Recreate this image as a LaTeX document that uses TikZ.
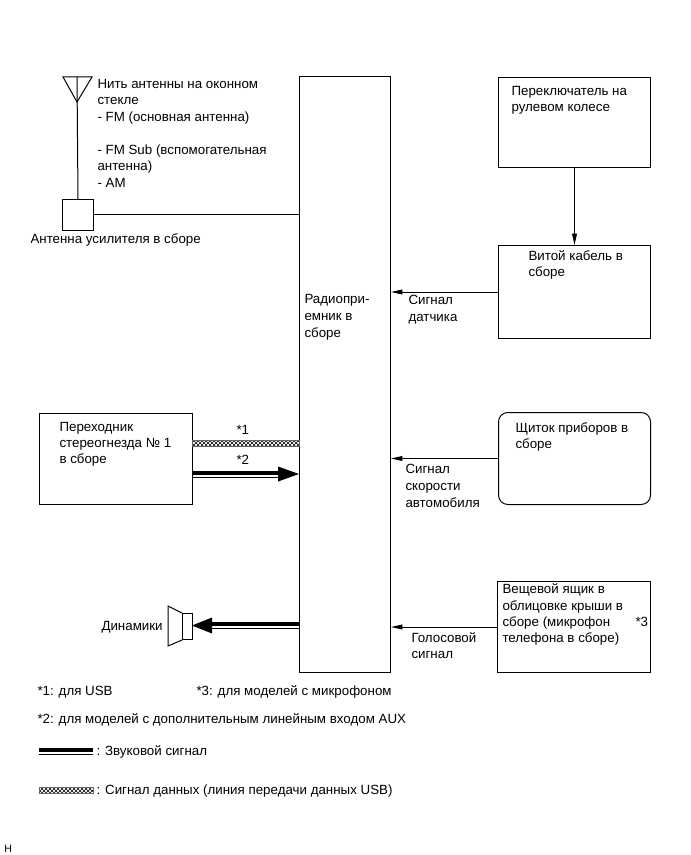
\documentclass[tikz,border=0pt]{standalone}
\usepackage{fontspec}
\setmainfont{Liberation Sans}
\usetikzlibrary{arrows.meta,patterns}
\tikzset{every picture/.style={line width=0.75pt}}
\tikzset{
	box/.style={draw,anchor=north west,inner sep=0pt},
	txt/.style={anchor=west,inner sep=0pt,yshift=-1.4pt,text height=7.2pt,text depth=2pt,font=\fontsize{10}{10}\selectfont},
	sigline/.style={-{Triangle[length=8.5pt,width=3.6pt]}},
	audio/.style={line width=3.6pt},
	audiothin/.style={line width=0.75pt},
	audiohead/.style={fill=black,draw=none},
	datahatch/.style={pattern=crosshatch,pattern color=black,draw=black!60,line width=0.3pt}
}

\begin{document}
\begin{tikzpicture}[x=0.75pt,y=0.75pt,yscale=-1,xscale=1]
	\useasboundingbox (0,0) rectangle (690,855);

	% Blocks
	\node [box,minimum width=68.25pt,minimum height=447pt] (radio) at (299,76) {};
	\node [box,minimum width=114pt,minimum height=67.5pt] (steer) at (498,77) {};
	\node [box,minimum width=114pt,minimum height=69.75pt] (cable) at (498,245) {};
	\node [box,rounded corners=7pt,minimum width=114pt,minimum height=69pt] (meter) at (498,412) {};
	\node [box,minimum width=114.75pt,minimum height=68.25pt] (visor) at (497,581) {};
	\node [box,minimum width=114.75pt,minimum height=68.25pt] (adapter) at (39,413) {};
	\node [box,minimum width=23.25pt,minimum height=23.25pt] (amp) at (62,199) {};

	% Antenna
	\coordinate (mast) at (77,77);
	\draw (63,77) -- (92,77) -- (77,102) -- cycle;
	\draw (mast) -- (amp.north);
	\draw (amp.east) -- (amp.east -| radio.west);

	% Signal lines
	\draw [sigline] (steer.south) -- (cable.north);
	\draw [sigline] (cable.west) -- (cable.west -| radio.east);
	\draw [sigline] (meter.west) -- (meter.west -| radio.east);
	\draw [sigline] (visor.west) -- (visor.west -| radio.east);

	% Data line
	\coordinate (data) at (192,440);
	\fill [datahatch] (data) rectangle (299,446);

	% Audio in
	\coordinate (audioin) at (192,473);
	\coordinate (audiotip) at (radio.west |- audioin);
	\draw [audio] (audioin) -- (280,473);
	\draw [audiothin] (192,477) -- (280,477);
	\fill [audiohead] (278,466.5) -- (299,474) -- (278,481.5) -- cycle;

	% Speaker
	\node [box,minimum width=7.5pt,minimum height=19.5pt] (cone) at (182,613) {};
	\draw (cone.north west) -- (168,606) -- (168,646) -- (cone.south west);
	\draw [audio] (radio.west |- 0,624) -- (210,624);
	\draw [audiothin] (radio.west |- 0,628) -- (210,628);
	\fill [audiohead] (212,617.5) -- (192,625.5) -- (212,633.5) -- cycle;

	% Legend
	\coordinate (legaudio) at (39,750);
	\draw [audio] (legaudio) -- (93,750);
	\draw [audiothin] (39,754) -- (93,754);
	\coordinate (legdata) at (39,787);
	\fill [datahatch] (legdata) rectangle (93,793);

	% Text Node
	\node [txt] (t1) at (97,83) {Нить антенны на оконном};
	\node [txt] (t2) at (97,99) {стекле};
	\node [txt] (t3) at (97,116) {- FM (основная антенна)};
	\node [txt] (t4) at (97,149) {- FM Sub (вспомогательная};
	\node [txt] (t5) at (97,165) {антенна)};
	\node [txt] (t6) at (97,182) {- AM};
	\node [txt] (t7) at (30,238) {Антенна усилителя в сборе};
	% Text Node
	\node [txt] (t8) at (511,90) {Переключатель на};
	\node [txt] (t9) at (511,106) {рулевом колесе};
	\node [txt] (t10) at (528,255) {Витой кабель в};
	\node [txt] (t11) at (528,271) {сборе};
	\node [txt] (t12) at (408,299) {Сигнал};
	\node [txt] (t13) at (408,316) {датчика};
	\node [txt] (t14) at (304,298) {Радиопри-};
	\node [txt] (t15) at (304,315) {емник в};
	\node [txt] (t16) at (304,332) {сборе};
	% Text Node
	\node [txt] (t17) at (515,427) {Щиток приборов в};
	\node [txt] (t18) at (515,443) {сборе};
	\node [txt] (t19) at (405,468) {Сигнал};
	\node [txt] (t20) at (405,485) {скорости};
	\node [txt] (t21) at (405,502) {автомобиля};
	\node [txt] (t22) at (502,588) {Вещевой ящик в};
	\node [txt] (t23) at (502,605) {облицовке крыши в};
	\node [txt] (t24) at (502,621) {сборе (микрофон};
	\node [txt] (t25) at (502,637) {телефона в сборе)};
	\node [txt] (t26) at (635,621) {*3};
	\node [txt] (t27) at (411,637) {Голосовой};
	\node [txt] (t28) at (411,653) {сигнал};
	% Text Node
	\node [txt] (t29) at (59,426) {Переходник};
	\node [txt] (t30) at (59,442) {стереогнезда № 1};
	\node [txt] (t31) at (59,458) {в сборе};
	\node [txt] (t32) at (236,429) {*1};
	\node [txt] (t33) at (236,459) {*2};
	\node [txt] (t34) at (101,625) {Динамики};
	% Text Node
	\node [txt] (t35) at (37,690) {*1: для USB};
	\node [txt] (t36) at (196,690) {*3: для моделей с микрофоном};
	\node [txt] (t37) at (37,718) {*2: для моделей с дополнительным линейным входом AUX};
	\node [txt] (t38) at (96,750) {: Звуковой сигнал};
	\node [txt] (t39) at (96,789) {: Сигнал данных (линия передачи данных USB)};
	\node [txt,font=\fontsize{8}{8}\selectfont] (t40) at (4,847) {H};

\end{tikzpicture}
\end{document}
